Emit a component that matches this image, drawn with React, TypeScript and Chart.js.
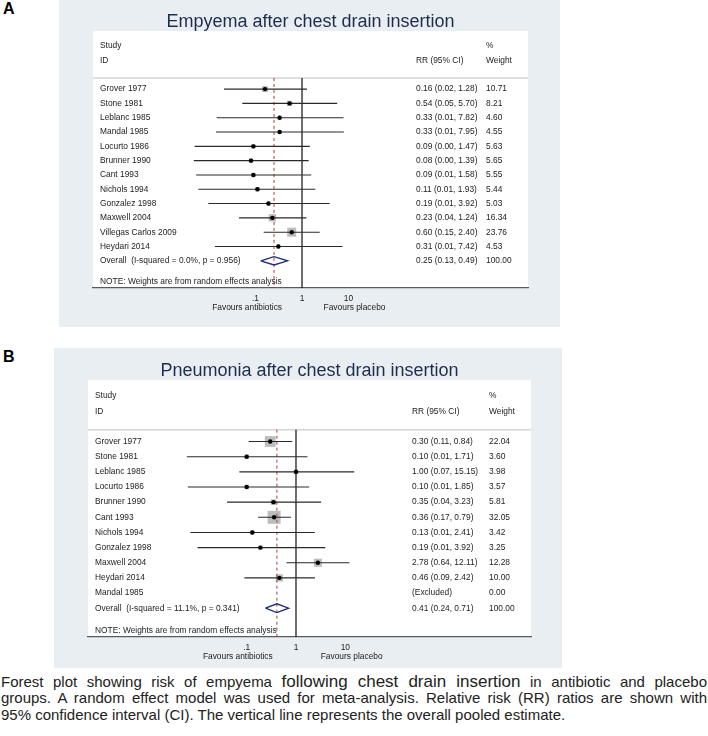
import React, { useEffect, useRef } from "react";
import { Chart, registerables } from "chart.js";

Chart.register(...registerables);

// ---------- Panel A data (Empyema) ----------
const titleA = "Empyema after chest drain insertion";
const studiesA = [
  "Grover 1977",
  "Stone 1981",
  "Leblanc 1985",
  "Mandal 1985",
  "Locurto 1986",
  "Brunner 1990",
  "Cant 1993",
  "Nichols 1994",
  "Gonzalez 1998",
  "Maxwell 2004",
  "Villegas Carlos 2009",
  "Heydari 2014",
];
const rrA = [0.16, 0.54, 0.33, 0.33, 0.09, 0.08, 0.09, 0.11, 0.19, 0.23, 0.6, 0.31];
const loA = [0.021, 0.052, 0.0146, 0.0141, 0.0049, 0.0047, 0.0053, 0.0059, 0.0097, 0.044, 0.15, 0.0134];
const hiA = [1.28, 5.7, 7.82, 7.95, 1.47, 1.39, 1.58, 1.93, 3.92, 1.24, 2.4, 7.42];
const weightA = [10.71, 8.21, 4.6, 4.55, 5.63, 5.65, 5.55, 5.44, 5.03, 16.34, 23.76, 4.53];
const overallLabelA = "Overall  (I-squared = 0.0%, p = 0.956)";
const overallA = [0.25, 0.13, 0.49]; // rr, lo, hi
const overallWeightA = 100;

// ---------- Panel B data (Pneumonia) ----------
const titleB = "Pneumonia after chest drain insertion";
const studiesB = [
  "Grover 1977",
  "Stone 1981",
  "Leblanc 1985",
  "Locurto 1986",
  "Brunner 1990",
  "Cant 1993",
  "Nichols 1994",
  "Gonzalez 1998",
  "Maxwell 2004",
  "Heydari 2014",
  "Mandal 1985",
];
const rrB: (number | null)[] = [0.3, 0.1, 1.0, 0.1, 0.35, 0.36, 0.13, 0.19, 2.78, 0.46, null];
const loB: (number | null)[] = [0.11, 0.0061, 0.071, 0.0064, 0.04, 0.17, 0.0072, 0.0101, 0.64, 0.09, null];
const hiB: (number | null)[] = [0.84, 1.71, 15.15, 1.85, 3.23, 0.79, 2.41, 3.92, 12.11, 2.42, null];
const weightB = [22.04, 3.6, 3.98, 3.57, 5.81, 32.05, 3.42, 3.25, 12.28, 10.0, 0.0];
const overallLabelB = "Overall  (I-squared = 11.1%, p = 0.341)";
const overallB = [0.41, 0.24, 0.71];
const overallWeightB = 100;

// ---------- shared axis text ----------
const xTicks = [0.1, 1, 10];
const xTickLabels = [".1", "1", "10"];
const favoursLeft = "Favours antibiotics";
const favoursRight = "Favours placebo";
const noteText = "NOTE: Weights are from random effects analysis";
const headerStudy = ["Study", "ID"];
const headerRR = "RR (95% CI)";
const headerWeight = ["%", "Weight"];
const excludedText = "(Excluded)";

const FONT = '"Liberation Sans", Arial, Helvetica, sans-serif';
const BG = "#e9eef2";
const TEXT = "#1c1c1c";

type Panel = {
  title: string;
  studies: string[];
  rr: (number | null)[];
  lo: (number | null)[];
  hi: (number | null)[];
  weight: number[];
  overallLabel: string;
  overall: number[];
  overallWeight: number;
  // layout
  width: number;
  height: number;
  padLeft: number;
  padRight: number;
  padTop: number;
  axisH: number;
  logMin: number;
  logMax: number;
  rrCol: number;
  wCol: number;
  boxK: number;
};

function fmt(v: number) {
  return v.toFixed(2);
}

function makeChart(canvas: HTMLCanvasElement, p: Panel) {
  const n = p.studies.length;
  const yMin = -4.06;
  const yMax = n + 1.9;
  const sepY = -0.78;
  const datasets: any[] = [];

  // study squares (weights)
  const sq: any[] = [];
  const sqR: number[] = [];
  p.studies.forEach((_, i) => {
    const r = p.rr[i];
    if (r != null && p.weight[i] > 0) {
      sq.push({ x: r, y: i });
      sqR.push((p.boxK * Math.sqrt(p.weight[i])) / Math.SQRT2);
    }
  });
  datasets.push({
    data: sq,
    pointStyle: "rect",
    pointRadius: sqR,
    pointBackgroundColor: "#bdbdbd",
    pointBorderColor: "#bdbdbd",
    pointBorderWidth: 0,
    showLine: false,
    order: 10,
  });

  // reference lines
  datasets.push({
    data: [
      { x: 1, y: sepY },
      { x: 1, y: yMax },
    ],
    showLine: true,
    borderColor: "#111",
    borderWidth: 1.2,
    pointRadius: 0,
    order: 6,
  });
  datasets.push({
    data: [
      { x: p.overall[0], y: sepY },
      { x: p.overall[0], y: yMax },
    ],
    showLine: true,
    borderColor: "#a0423c",
    borderWidth: 1,
    borderDash: [3, 3],
    pointRadius: 0,
    order: 5,
  });

  // CI lines
  p.studies.forEach((_, i) => {
    const lo = p.lo[i];
    const hi = p.hi[i];
    if (lo == null || hi == null) return;
    datasets.push({
      data: [
        { x: lo, y: i },
        { x: hi, y: i },
      ],
      showLine: true,
      borderColor: "#2a2a2a",
      borderWidth: 1.1,
      pointRadius: 0,
      order: 4,
    });
  });

  // point estimates
  const pts: any[] = [];
  p.studies.forEach((_, i) => {
    const r = p.rr[i];
    if (r != null) pts.push({ x: r, y: i });
  });
  datasets.push({
    data: pts,
    pointStyle: "circle",
    pointRadius: 2.2,
    pointBackgroundColor: "#000",
    pointBorderColor: "#000",
    pointBorderWidth: 0,
    showLine: false,
    order: 1,
  });

  // overall diamond
  const h = 0.29;
  datasets.push({
    data: [
      { x: p.overall[1], y: n },
      { x: p.overall[0], y: n - h },
      { x: p.overall[2], y: n },
      { x: p.overall[0], y: n + h },
      { x: p.overall[1], y: n },
    ],
    showLine: true,
    borderColor: "#1f2a7a",
    backgroundColor: "#ffffff",
    fill: false,
    borderWidth: 1.3,
    pointRadius: 0,
    tension: 0,
    order: 2,
  });

  const textPlugin = {
    id: "forestText",
    beforeDraw(chart: any) {
      const { ctx, chartArea: a } = chart;
      ctx.save();
      ctx.fillStyle = BG;
      ctx.fillRect(0, 0, chart.width, chart.height);
      ctx.fillStyle = "#ffffff";
      ctx.fillRect(a.left, a.top, a.right - a.left, a.bottom - a.top);
      // header separator
      const ys = chart.scales.y;
      const yy = ys.getPixelForValue(sepY);
      ctx.strokeStyle = "#d4d4d4";
      ctx.lineWidth = 1.5;
      ctx.beginPath();
      ctx.moveTo(a.left, yy);
      ctx.lineTo(a.right, yy);
      ctx.stroke();
      ctx.restore();
    },
    afterDraw(chart: any) {
      const { ctx, chartArea: a } = chart;
      const ys = chart.scales.y;
      const xs = chart.scales.x;
      ctx.save();
      // title
      ctx.fillStyle = "#1f2d4c";
      ctx.font = `18px ${FONT}`;
      ctx.textAlign = "center";
      ctx.textBaseline = "alphabetic";
      ctx.fillText(p.title, (a.left + a.right) / 2, a.top - 4.5);

      ctx.fillStyle = TEXT;
      ctx.font = `8.4px ${FONT}`;
      ctx.textBaseline = "middle";
      ctx.textAlign = "left";
      const xName = a.left + 7;
      const xRR = a.left + p.rrCol;
      const xW = a.left + p.wCol;
      // headers
      ctx.fillText(headerStudy[0], xName, ys.getPixelForValue(-3));
      ctx.fillText(headerStudy[1], xName, ys.getPixelForValue(-2));
      ctx.fillText(headerRR, xRR, ys.getPixelForValue(-2));
      ctx.fillText(headerWeight[0], xW, ys.getPixelForValue(-3));
      ctx.fillText(headerWeight[1], xW, ys.getPixelForValue(-2));
      // rows
      p.studies.forEach((s, i) => {
        const y = ys.getPixelForValue(i);
        ctx.fillText(s, xName, y);
        const r = p.rr[i];
        const lo = p.lo[i];
        const hi = p.hi[i];
        const txt =
          r == null || lo == null || hi == null
            ? excludedText
            : `${fmt(r)} (${fmt(lo)}, ${fmt(hi)})`;
        ctx.fillText(txt, xRR, y);
        ctx.fillText(fmt(p.weight[i]), xW, y);
      });
      const yo = ys.getPixelForValue(n);
      ctx.fillText(p.overallLabel, xName, yo);
      ctx.fillText(
        `${fmt(p.overall[0])} (${fmt(p.overall[1])}, ${fmt(p.overall[2])})`,
        xRR,
        yo
      );
      ctx.fillText(fmt(p.overallWeight), xW, yo);
      ctx.fillText(noteText, xName, ys.getPixelForValue(n + 1.47));
      // favours labels
      ctx.textAlign = "center";
      const fy = a.bottom + 20;
      ctx.fillText(favoursLeft, xs.getPixelForValue(Math.pow(10, -1.18)), fy);
      ctx.fillText(favoursRight, xs.getPixelForValue(Math.pow(10, 1.13)), fy);
      ctx.restore();
    },
  };

  return new Chart(canvas, {
    type: "scatter",
    data: { datasets },
    options: {
      responsive: false,
      animation: false,
      devicePixelRatio: 1,
      events: [],
      layout: {
        padding: { left: p.padLeft, right: p.padRight, top: p.padTop, bottom: 0 },
      },
      plugins: {
        legend: { display: false },
        tooltip: { enabled: false },
        title: { display: false },
      },
      scales: {
        x: {
          type: "logarithmic",
          min: Math.pow(10, p.logMin),
          max: Math.pow(10, p.logMax),
          grid: { display: false, drawTicks: false },
          border: { display: true, color: "#5a5a5a", width: 1.2 },
          ticks: {
            color: TEXT,
            font: { size: 8.4, family: FONT },
            padding: 6,
            autoSkip: false,
            maxRotation: 0,
            callback: (v: any) => {
              const k = xTicks.findIndex((t) => Math.abs(t - Number(v)) < 1e-9);
              return k >= 0 ? xTickLabels[k] : "";
            },
          },
          afterBuildTicks: (s: any) => {
            s.ticks = xTicks.map((v) => ({ value: v }));
          },
          afterFit: (s: any) => {
            s.height = p.axisH;
          },
        },
        y: {
          type: "linear",
          reverse: true,
          min: yMin,
          max: yMax,
          display: false,
        },
      },
    } as any,
    plugins: [textPlugin],
  });
}

const panelA: Panel = {
  title: titleA,
  studies: studiesA,
  rr: rrA,
  lo: loA,
  hi: hiA,
  weight: weightA,
  overallLabel: overallLabelA,
  overall: overallA,
  overallWeight: overallWeightA,
  width: 501,
  height: 327,
  padLeft: 34,
  padRight: 32,
  padTop: 31,
  axisH: 39,
  logMin: -4.495,
  logMax: 4.86,
  rrCol: 323,
  wCol: 393,
  boxK: 1.85,
};

const panelB: Panel = {
  title: titleB,
  studies: studiesB,
  rr: rrB,
  lo: loB,
  hi: hiB,
  weight: weightB,
  overallLabel: overallLabelB,
  overall: overallB,
  overallWeight: overallWeightB,
  width: 508,
  height: 320,
  padLeft: 34,
  padRight: 31,
  padTop: 32,
  axisH: 31,
  logMin: -4.219,
  logMax: 4.767,
  rrCol: 324,
  wCol: 401,
  boxK: 2.3,
};

function ForestPanel({ panel, left, top }: { panel: Panel; left: number; top: number }) {
  const ref = useRef<HTMLCanvasElement | null>(null);
  useEffect(() => {
    if (!ref.current) return;
    const c = makeChart(ref.current, panel);
    return () => c.destroy();
  }, [panel]);
  return (
    <div style={{ position: "absolute", left, top, width: panel.width, height: panel.height }}>
      <canvas ref={ref} width={panel.width} height={panel.height} style={{ display: "block" }} />
    </div>
  );
}

const captionFont = '"Liberation Sans Narrow", "Arial Narrow", "Liberation Sans", Arial, sans-serif';

export default function App() {
  const lineStyle: React.CSSProperties = {
    textAlign: "justify",
    textAlignLast: "justify" as any,
    whiteSpace: "nowrap",
    height: 16.3,
    lineHeight: "16.3px",
  };
  return (
    <div
      style={{
        position: "absolute",
        left: 0,
        top: 0,
        width: 708,
        height: 736,
        background: "#ffffff",
        overflow: "hidden",
      }}
    >
      <div
        style={{
          position: "absolute",
          left: 3,
          top: 1,
          font: `bold 16px ${FONT}`,
          lineHeight: "16px",
          color: "#000",
        }}
      >
        A
      </div>
      <div
        style={{
          position: "absolute",
          left: 3,
          top: 349,
          font: `bold 16px ${FONT}`,
          lineHeight: "16px",
          color: "#000",
        }}
      >
        B
      </div>
      <ForestPanel panel={panelA} left={59} top={0} />
      <ForestPanel panel={panelB} left={54} top={348} />
      <div
        style={{
          position: "absolute",
          left: 1,
          top: 674,
          width: 706,
          fontFamily: captionFont,
          fontSize: 15,
          color: "#222",
        }}
      >
        <div style={lineStyle}>
          Forest plot showing risk of empyema{" "}
          <span style={{ fontSize: 17 }}>following chest drain insertion</span> in antibiotic and placebo
        </div>
        <div style={lineStyle}>
          groups. A random effect model was used for meta-analysis. Relative risk (RR) ratios are shown with
        </div>
        <div style={{ ...lineStyle, textAlign: "left", textAlignLast: "left" as any }}>
          95% confidence interval (CI). The vertical line represents the overall pooled estimate.
        </div>
      </div>
    </div>
  );
}
